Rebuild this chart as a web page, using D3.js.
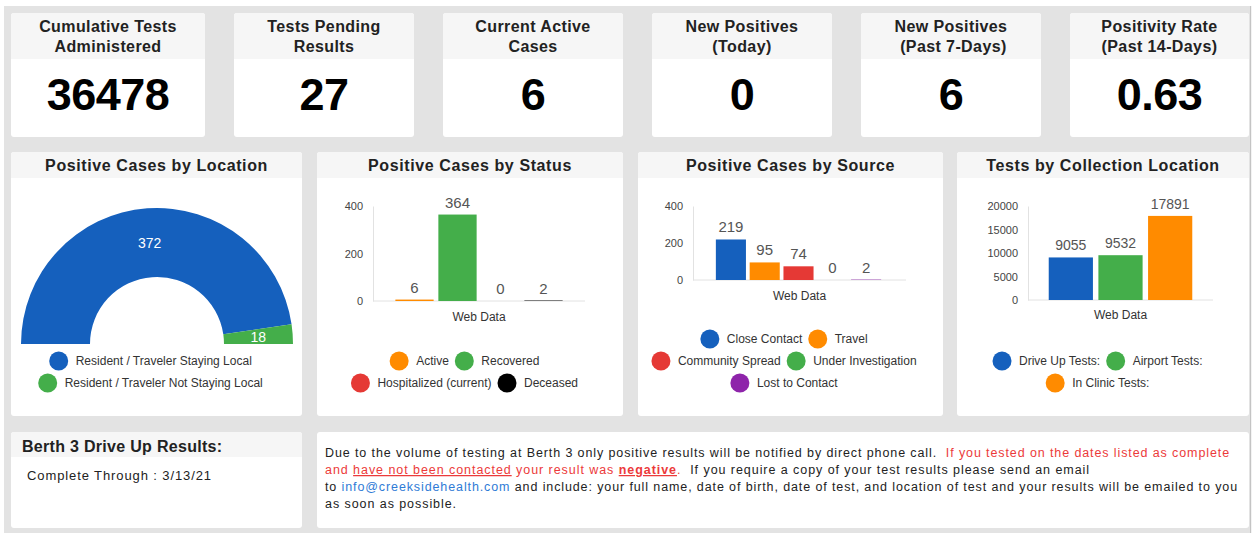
<!DOCTYPE html>
<html><head><meta charset="utf-8">
<script src="https://cdn.jsdelivr.net/npm/d3@7"></script>
<style>
body{margin:0;background:#fff;}
svg{display:block;font-family:"Liberation Sans",Arial,sans-serif;}
</style>
</head><body>
<svg id="c" width="1254" height="533"></svg>
<script>
// ---------------- DATA ----------------
const cardTitles = [
  ["Cumulative Tests", "Administered"],
  ["Tests Pending", "Results"],
  ["Current Active", "Cases"],
  ["New Positives", "(Today)"],
  ["New Positives", " (Past 7-Days)"],
  ["Positivity Rate", "(Past 14-Days)"]
];
const cardValues = ["36478", "27", "6", "0", "6", "0.63"];

const panelTitles = ["Positive Cases by Location", "Positive Cases by Status", "Positive Cases by Source", "Tests by Collection Location"];

const locationCategories = ["Resident / Traveler Staying Local", "Resident / Traveler Not Staying Local"];
const locationValues = [372, 18];

const statusCategories = ["Active", "Recovered", "Hospitalized (current)", "Deceased"];
const statusValues = [6, 364, 0, 2];
const statusTicks = [0, 200, 400];

const sourceCategories = ["Close Contact", "Travel", "Community Spread", "Under Investigation", "Lost to Contact"];
const sourceValues = [219, 95, 74, 0, 2];
const sourceTicks = [0, 200, 400];

const collectionCategories = ["Drive Up Tests:", "Airport Tests:", "In Clinic Tests:"];
const collectionValues = [9055, 9532, 17891];
const collectionTicks = [0, 5000, 10000, 15000, 20000];

const xCategoryLabel = "Web Data";

const berthTitle = "Berth 3 Drive Up Results:";
const berthText = "Complete Through : 3/13/21";

const noticeLines = [
  [{t:"Due to the volume of testing at Berth 3 only positive results will be notified by direct phone call.  "},
   {t:"If you tested on the dates listed as complete", c:"red"}],
  [{t:"and ", c:"red"}, {t:"have not been contacted", c:"red", u:1}, {t:" your result was ", c:"red"},
   {t:"negative", c:"red", u:1, b:1}, {t:".", c:"red"},
   {t:"  If you require a copy of your test results please send an email"}],
  [{t:"to "}, {t:"info@creeksidehealth.com", c:"blue"},
   {t:" and include: your full name, date of birth, date of test, and location of test and your results will be emailed to you"}],
  [{t:"as soon as possible."}]
];

// ---------------- STYLE ----------------
const BLUE = "#1560bd", GREEN = "#44ae4a", ORANGE = "#ff8b00", RED = "#e53935", BLACK = "#000000", PURPLE = "#8e24aa";
const locationColors = [BLUE, GREEN];
const statusColors = [ORANGE, GREEN, RED, BLACK];
const sourceColors = [BLUE, ORANGE, RED, GREEN, PURPLE];
const collectionColors = [BLUE, GREEN, ORANGE];
const textColors = {red: "#ec3a3a", blue: "#2f7bd6"};
const BG = "#e3e3e3", HEAD = "#f6f6f6";

const svg = d3.select("#c");

// background
svg.append("rect").attr("x", 4).attr("y", 6).attr("width", 1246).attr("height", 527).attr("fill", BG);
svg.append("rect").attr("x", 1250).attr("y", 6).attr("width", 1.2).attr("height", 527).attr("fill", "#c4c4c4");

// ---------------- TOP CARDS ----------------
const cardX = [11, 234, 443, 652, 861, 1070];
const cardW = [194, 180, 180, 180, 180, 179];
cardTitles.forEach((lines, i) => {
  const g = svg.append("g").attr("transform", `translate(${cardX[i]},13)`);
  g.append("rect").attr("width", cardW[i]).attr("height", 124).attr("rx", 3).attr("fill", "#fff");
  g.append("path").attr("d", `M0,46V3Q0,0 3,0H${cardW[i]-3}Q${cardW[i]},0 ${cardW[i]},3V46Z`).attr("fill", HEAD);
  lines.forEach((l, j) => {
    g.append("text").attr("x", cardW[i] / 2).attr("y", 19 + j * 20)
      .attr("text-anchor", "middle").attr("font-size", 16).attr("font-weight", "bold")
      .attr("letter-spacing", 0.4).attr("fill", "#222").style("white-space", "pre").text(l);
  });
  g.append("text").attr("x", cardW[i] / 2).attr("y", 97)
    .attr("text-anchor", "middle").attr("font-size", 45).attr("font-weight", "bold")
    .attr("letter-spacing", -0.5).attr("fill", "#000").text(cardValues[i]);
});

// ---------------- CHART PANELS ----------------
const panels = [{x: 11, w: 291}, {x: 317, w: 306}, {x: 638, w: 305}, {x: 957, w: 292}];
panels.forEach((p, i) => {
  svg.append("rect").attr("x", p.x).attr("y", 152).attr("width", p.w).attr("height", 264).attr("rx", 3).attr("fill", "#fff");
  svg.append("path").attr("d", `M${p.x},178V155Q${p.x},152 ${p.x+3},152H${p.x+p.w-3}Q${p.x+p.w},152 ${p.x+p.w},155V178Z`).attr("fill", HEAD);
  svg.append("text").attr("x", p.x + p.w / 2).attr("y", 171).attr("text-anchor", "middle")
    .attr("font-size", 16).attr("font-weight", "bold").attr("letter-spacing", 0.6).attr("fill", "#222")
    .text(panelTitles[i]);
});

function measure(str, size, weight) {
  const t = svg.append("text").attr("font-size", size).attr("font-weight", weight || "normal").text(str);
  const w = t.node().getComputedTextLength();
  t.remove();
  return w;
}

function legend(labels, colors, cx, lastY, maxW) {
  const gap = 6;
  const items = labels.map((l, i) => ({l, c: colors[i], w: 26.5 + measure(l, 12)}));
  const rows = [];
  let cur = [], curW = 0;
  items.forEach(it => {
    const nw = cur.length ? curW + gap + it.w : it.w;
    if (cur.length && nw > maxW) { rows.push({items: cur, w: curW}); cur = [it]; curW = it.w; }
    else { cur.push(it); curW = nw; }
  });
  if (cur.length) rows.push({items: cur, w: curW});
  rows.forEach((r, ri) => {
    const y = lastY - (rows.length - 1 - ri) * 22;
    let x = cx - r.w / 2;
    r.items.forEach(it => {
      svg.append("circle").attr("cx", x + 9.5).attr("cy", y).attr("r", 9.5).attr("fill", it.c);
      svg.append("text").attr("x", x + 26.5).attr("y", y).attr("dy", "0.35em")
        .attr("font-size", 12).attr("fill", "#333").text(it.l);
      x += it.w + gap;
    });
  });
}

// ---- Donut (location)
(function () {
  const cx = 157, cy = 344;
  const pie = d3.pie().sort(null).startAngle(-Math.PI / 2).endAngle(Math.PI / 2);
  const arc = d3.arc().innerRadius(67).outerRadius(136);
  const arcs = pie(locationValues);
  const g = svg.append("g").attr("transform", `translate(${cx},${cy})`);
  g.selectAll("path").data(arcs).join("path").attr("d", arc).attr("fill", (d, i) => locationColors[i]);
  g.selectAll("text").data(arcs).join("text")
    .attr("transform", d => `translate(${arc.centroid(d)})`).attr("dy", "0.35em")
    .attr("text-anchor", "middle").attr("font-size", 14).attr("fill", "#fff").text(d => d.data);
  legend(locationCategories, locationColors, 150.5, 383, 272);
})();

// ---- Bar charts
function bars(o) {
  const y = d3.scaleLinear().domain([0, d3.max(o.ticks)]).range([o.y0, o.yTop]);
  const x = d3.scaleBand().domain(o.cats).range(o.band).paddingInner(0.11).paddingOuter(0.055);
  const ax = svg.append("g").attr("transform", `translate(${o.axisX},0)`)
    .call(d3.axisLeft(y).tickValues(o.ticks).tickSize(0).tickPadding(10).tickFormat(d3.format("d")));
  ax.attr("font-family", null).attr("font-size", 11);
  ax.select(".domain").attr("stroke", "#e2e2e2");
  ax.selectAll("text").attr("fill", "#444");
  svg.append("line").attr("x1", o.axisX).attr("x2", o.xEnd).attr("y1", o.y0).attr("y2", o.y0).attr("stroke", "#e2e2e2");
  svg.append("g").selectAll("rect").data(o.vals).join("rect")
    .attr("x", (d, i) => x(o.cats[i])).attr("width", x.bandwidth())
    .attr("y", d => y(d)).attr("height", d => o.y0 - y(d))
    .attr("fill", (d, i) => o.colors[i]);
  svg.append("g").selectAll("text").data(o.vals).join("text")
    .attr("x", (d, i) => x(o.cats[i]) + x.bandwidth() / 2).attr("y", d => y(d) - 7)
    .attr("text-anchor", "middle").attr("font-size", o.labelSize).attr("fill", "#555").text(d => d);
  svg.append("text").attr("x", (o.axisX + o.xEnd) / 2).attr("y", o.catY).attr("text-anchor", "middle")
    .attr("font-size", 12).attr("fill", "#333").text(xCategoryLabel);
  legend(o.cats, o.colors, o.legendX, 383, 272);
}

bars({cats: statusCategories, vals: statusValues, colors: statusColors, ticks: statusTicks,
  y0: 301, yTop: 206, axisX: 373, xEnd: 585, band: [393, 565], labelSize: 15, catY: 321, legendX: 464.5});
bars({cats: sourceCategories, vals: sourceValues, colors: sourceColors, ticks: sourceTicks,
  y0: 280, yTop: 206, axisX: 693, xEnd: 906, band: [714, 883], labelSize: 15, catY: 300, legendX: 784});
bars({cats: collectionCategories, vals: collectionValues, colors: collectionColors, ticks: collectionTicks,
  y0: 300, yTop: 206, axisX: 1028, xEnd: 1213, band: [1046, 1195], labelSize: 14, catY: 319, legendX: 1097.5});

// ---------------- BOTTOM ROW ----------------
function fit(sel, target) {
  const n = sel.text().length;
  const w = sel.node().getComputedTextLength();
  sel.attr("letter-spacing", (target - w) / n);
}

svg.append("rect").attr("x", 11).attr("y", 432).attr("width", 291).attr("height", 96).attr("rx", 3).attr("fill", "#fff");
svg.append("path").attr("d", "M11,457V435Q11,432 14,432H299Q302,432 302,435V457Z").attr("fill", HEAD);
svg.append("text").attr("x", 22).attr("y", 452).attr("font-size", 16).attr("font-weight", "bold")
  .attr("fill", "#222").attr("letter-spacing", 0.3).text(berthTitle);
const bt = svg.append("text").attr("x", 27).attr("y", 480).attr("font-size", 13).attr("fill", "#222").text(berthText);
fit(bt, 185);

svg.append("rect").attr("x", 317).attr("y", 432).attr("width", 932).attr("height", 96).attr("rx", 3).attr("fill", "#fff");
const lineTargets = [905, 765, 913, 132];
noticeLines.forEach((segs, i) => {
  const t = svg.append("text").attr("x", 325).attr("y", 457 + i * 17).attr("font-size", 12.5)
    .attr("fill", "#222").style("white-space", "pre");
  segs.forEach(s => {
    const ts = t.append("tspan").text(s.t);
    if (s.c) ts.attr("fill", textColors[s.c]);
    if (s.u) ts.style("text-decoration", "underline");
    if (s.b) ts.attr("font-weight", "bold");
  });
  fit(t, lineTargets[i]);
});
</script>
</body></html>
